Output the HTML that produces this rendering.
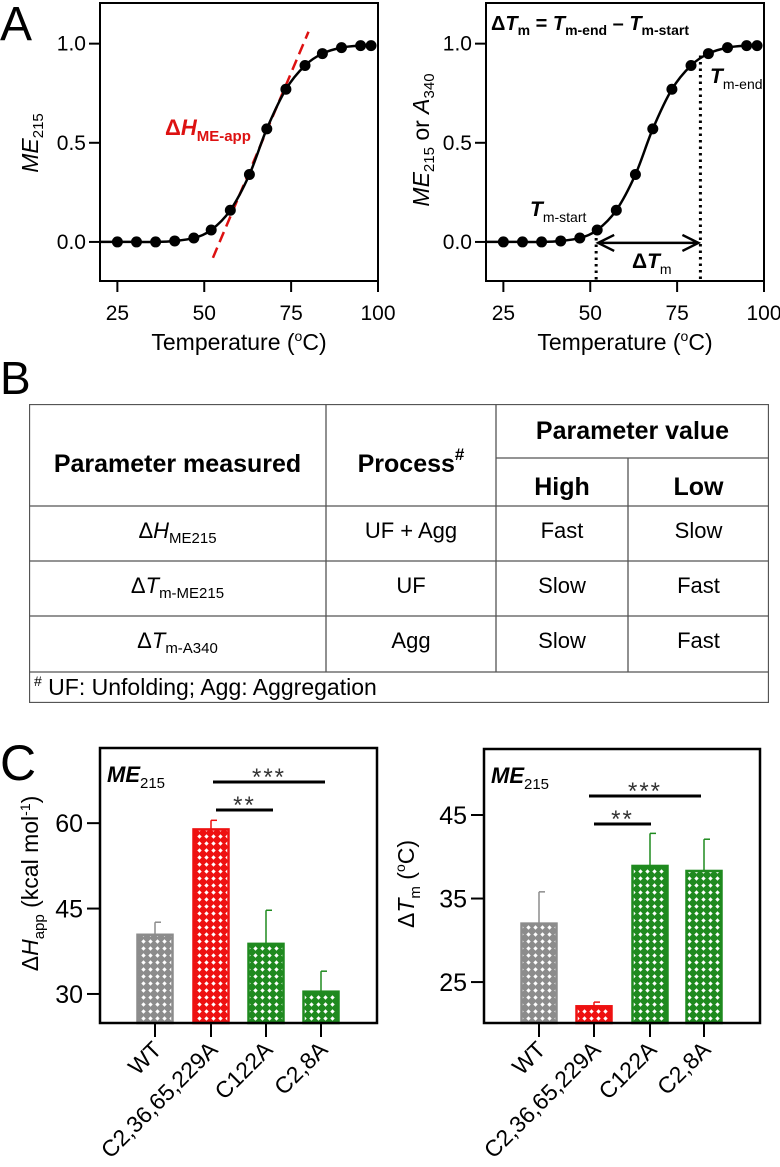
<!DOCTYPE html>
<html><head><meta charset="utf-8">
<style>
html,body{margin:0;padding:0;background:#fff;}
body{width:780px;height:1167px;position:relative;overflow:hidden;font-family:"Liberation Sans",Arial,sans-serif;}
svg{position:absolute;left:0;top:0;}
text{font-family:"Liberation Sans",Arial,sans-serif;}
.tbl{position:absolute;left:29px;top:404px;width:740px;height:299px;}
.cell{position:absolute;display:flex;align-items:center;justify-content:center;font-size:22px;color:#000;white-space:nowrap;}
.hd{font-weight:bold;font-size:25px;}
.sb{font-size:15px;position:relative;top:7px;}
</style></head>
<body>
<svg width="780" height="1167">
<defs>
<pattern id="pg" width="7" height="7" patternUnits="userSpaceOnUse"><rect width="7" height="7" fill="#8c8c8c"/><path d="M3.5 1.3 L5.7 3.5 L3.5 5.7 L1.3 3.5Z" fill="#fff"/></pattern>
<pattern id="pr" width="7" height="7" patternUnits="userSpaceOnUse"><rect width="7" height="7" fill="#ee1111"/><path d="M3.5 1.3 L5.7 3.5 L3.5 5.7 L1.3 3.5Z" fill="#fff"/></pattern>
<pattern id="pgr" width="7" height="7" patternUnits="userSpaceOnUse"><rect width="7" height="7" fill="#1f8a1f"/><path d="M3.5 1.3 L5.7 3.5 L3.5 5.7 L1.3 3.5Z" fill="#fff"/></pattern>
</defs>
<g id="gA1"></g>
<g id="gA2"></g>
<g id="gC1"></g>
<g id="gC2"></g>
<text x="0" y="40" font-size="48">A</text>
<text x="0" y="394" font-size="46">B</text>
<text x="0" y="780" font-size="50">C</text>
</svg>

<div class="tbl">
<svg width="740" height="299" style="position:absolute;left:0;top:0">
<g stroke="#555" stroke-width="1.3" fill="none">
<rect x="0.5" y="0.5" width="739" height="298"/>
<line x1="0" y1="102" x2="740" y2="102"/>
<line x1="0" y1="157" x2="740" y2="157"/>
<line x1="0" y1="212" x2="740" y2="212"/>
<line x1="0" y1="268" x2="740" y2="268"/>
<line x1="297" y1="0" x2="297" y2="268"/>
<line x1="467" y1="0" x2="467" y2="268"/>
<line x1="467" y1="54" x2="740" y2="54"/>
<line x1="599" y1="54" x2="599" y2="268"/>
</g></svg>
<div class="cell hd" style="left:0;top:0;width:297px;height:120px">Parameter measured</div>
<div class="cell hd" style="left:297px;top:0;width:170px;height:120px">Process<span style="font-size:17px;position:relative;top:-9px">#</span></div>
<div class="cell hd" style="left:467px;top:0;width:273px;height:54px">Parameter value</div>
<div class="cell hd" style="left:467px;top:54px;width:132px;height:58px">High</div>
<div class="cell hd" style="left:599px;top:54px;width:141px;height:58px">Low</div>

<div class="cell" style="left:0;top:102px;width:297px;height:50px">Δ<i>H</i><span class="sb">ME215</span></div>
<div class="cell" style="left:297px;top:102px;width:170px;height:50px">UF + Agg</div>
<div class="cell" style="left:467px;top:102px;width:132px;height:50px">Fast</div>
<div class="cell" style="left:599px;top:102px;width:141px;height:50px">Slow</div>

<div class="cell" style="left:0;top:157px;width:297px;height:50px">Δ<i>T</i><span class="sb">m-ME215</span></div>
<div class="cell" style="left:297px;top:157px;width:170px;height:50px">UF</div>
<div class="cell" style="left:467px;top:157px;width:132px;height:50px">Slow</div>
<div class="cell" style="left:599px;top:157px;width:141px;height:50px">Fast</div>

<div class="cell" style="left:0;top:212px;width:297px;height:50px">Δ<i>T</i><span class="sb">m-A340</span></div>
<div class="cell" style="left:297px;top:212px;width:170px;height:50px">Agg</div>
<div class="cell" style="left:467px;top:212px;width:132px;height:50px">Slow</div>
<div class="cell" style="left:599px;top:212px;width:141px;height:50px">Fast</div>

<div class="cell" style="left:5px;top:268px;height:31px;justify-content:flex-start;font-size:23px"><span style="font-size:14px;position:relative;top:-7px">#</span>&nbsp;UF: Unfolding; Agg: Aggregation</div>
</div>

<script>
// Panel A data
const temps = [25, 30.5, 36, 41.5, 47, 52, 57.5, 63, 68, 73.5, 79, 84, 89.5, 95, 98];
const signal = [0, 0, 0, 0.005, 0.02, 0.06, 0.16, 0.34, 0.57, 0.77, 0.89, 0.95, 0.98, 0.99, 0.99];
const xTicksA = [25, 50, 75, 100];
const yTicksA = [0, 0.5, 1.0];
const yTickLabelsA = ["0.0", "0.5", "1.0"];
const slopeLine = [[52.5, -0.08], [80, 1.06]];
const tmStart = 51.7, tmEnd = 81.7;

// Panel C data
const mutants = ["WT", "C2,36,65,229A", "C122A", "C2,8A"];
const dH = [40.4, 58.9, 38.8, 30.4];
const dHerr = [2.2, 1.6, 5.9, 3.6];
const dTm = [32.0, 22.1, 38.9, 38.3];
const dTmErr = [3.8, 0.5, 3.9, 3.8];
const yTicksC1 = [30, 45, 60];
const yTicksC2 = [25, 35, 45];
const barFills = ["url(#pg)", "url(#pr)", "url(#pgr)", "url(#pgr)"];
const barStrokes = ["#8c8c8c", "#ee1111", "#1f8a1f", "#1f8a1f"];

const NS = "http://www.w3.org/2000/svg";
function mk(parent, tag, attrs, txt) {
  const e = document.createElementNS(NS, tag);
  for (const k in attrs) e.setAttribute(k, attrs[k]);
  if (txt !== undefined) e.textContent = txt;
  parent.appendChild(e);
  return e;
}
function smoothPath(pts) {
  let d = "M" + pts[0][0] + " " + pts[0][1];
  for (let i = 0; i < pts.length - 1; i++) {
    const p0 = pts[Math.max(0, i - 1)], p1 = pts[i], p2 = pts[i + 1], p3 = pts[Math.min(pts.length - 1, i + 2)];
    const c1x = p1[0] + (p2[0] - p0[0]) / 6, c1y = p1[1] + (p2[1] - p0[1]) / 6;
    const c2x = p2[0] - (p3[0] - p1[0]) / 6, c2y = p2[1] - (p3[1] - p1[1]) / 6;
    d += " C" + c1x + " " + c1y + " " + c2x + " " + c2y + " " + p2[0] + " " + p2[1];
  }
  return d;
}

function panelA(g, x0, x1, right) {
  const top = 3, bot = 281;
  const X = t => x0 + (t - 20) / 80 * (x1 - x0);
  const Y = v => bot - (v + 0.197) / 1.402 * (bot - top);
  const box = mk(g, "rect", {x: x0, y: top, width: x1 - x0, height: bot - top, fill: "none", stroke: "#000", "stroke-width": 2});
  
  
  xTicksA.forEach(t => {
    const l = mk(g, "line", {x1: X(t), x2: X(t), y1: bot, y2: bot + 11, stroke: "#000", "stroke-width": 2});
    
    
    const tx = mk(g, "text", {x: X(t), y: 320, "font-size": 21, "text-anchor": "middle"}, String(t));
    
    
  });
  yTicksA.forEach((v, i) => {
    const l = mk(g, "line", {x1: x0 - 11, x2: x0, y1: Y(v), y2: Y(v), stroke: "#000", "stroke-width": 2});
    
    
    const tx = mk(g, "text", {x: x0 - 14, y: Y(v) + 7, "font-size": 21, "text-anchor": "end"}, yTickLabelsA[i]);
    
    
  });
  const xt = mk(g, "text", {x: (x0 + x1) / 2, y: 350, "font-size": 23, "text-anchor": "middle"});
  
  
  xt.innerHTML = 'Temperature (<tspan font-size="14" dy="-9">o</tspan><tspan dy="9">C)</tspan>';

  const pts = [[X(20), Y(0)]].concat(temps.map((t, i) => [X(t), Y(signal[i])])).concat([[X(98.5), Y(0.99)]]);
  if (!right) {
    const sl = mk(g, "line", {x1: X(slopeLine[0][0]), y1: Y(slopeLine[0][1]), x2: X(slopeLine[1][0]), y2: Y(slopeLine[1][1]), stroke: "#dd1111", "stroke-width": 2.5, "stroke-dasharray": "11,6"});
    
    
  }
  const path = mk(g, "path", {d: smoothPath(pts), fill: "none", stroke: "#000", "stroke-width": 2.5});
  
  
  temps.forEach((t, i) => {
    const c = mk(g, "circle", {cx: X(t), cy: Y(signal[i]), r: 5.5, fill: "#000"});
    
    
  });
  if (!right) {
    const yt = mk(g, "text", {transform: "translate(38,143) rotate(-90)", "font-size": 23, "text-anchor": "middle"});
    
    
    yt.innerHTML = '<tspan font-style="italic">ME</tspan><tspan font-size="15" dy="5">215</tspan>';
    const rl = mk(g, "text", {x: 165, y: 135, "font-size": 22, fill: "#dd1111", "font-weight": "bold"});
    
    
    rl.innerHTML = 'Δ<tspan font-style="italic">H</tspan><tspan font-size="15" dy="6">ME-app</tspan>';
  } else {
    const yt = mk(g, "text", {transform: "translate(429,140) rotate(-90)", "font-size": 23, "text-anchor": "middle"});
    
    
    yt.innerHTML = '<tspan font-style="italic">ME</tspan><tspan font-size="15" dy="5">215</tspan><tspan dy="-5"> or </tspan><tspan font-style="italic">A</tspan><tspan font-size="15" dy="5">340</tspan>';
    const d1 = mk(g, "line", {x1: X(tmStart), x2: X(tmStart), y1: Y(0.02), y2: bot, stroke: "#000", "stroke-width": 3, "stroke-dasharray": "2.5,4"});
    
    
    const d2 = mk(g, "line", {x1: X(tmEnd), x2: X(tmEnd), y1: Y(0.94), y2: bot, stroke: "#000", "stroke-width": 3, "stroke-dasharray": "2.5,4"});
    
    
    const ay = Y(0) + 1, ax1 = X(tmStart) + 2, ax2 = X(tmEnd) - 2;
    const ar = mk(g, "path", {d: `M${ax1} ${ay} L${ax2} ${ay} M${ax1 + 16} ${ay - 8} L${ax1} ${ay} L${ax1 + 16} ${ay + 8} M${ax2 - 16} ${ay - 8} L${ax2} ${ay} L${ax2 - 16} ${ay + 8}`, fill: "none", stroke: "#000", "stroke-width": 2.5});
    
    
    const t1 = mk(g, "text", {x: 491, y: 30, "font-size": 20, "font-weight": "bold"});
    
    
    t1.innerHTML = 'Δ<tspan font-style="italic">T</tspan><tspan font-size="14" dy="5">m</tspan><tspan dy="-5"> = </tspan><tspan font-style="italic">T</tspan><tspan font-size="14" dy="5">m-end</tspan><tspan dy="-5"> – </tspan><tspan font-style="italic">T</tspan><tspan font-size="14" dy="5">m-start</tspan>';
    const t2 = mk(g, "text", {x: 710, y: 83, "font-size": 21, "font-weight": "bold"});
    
    
    t2.innerHTML = '<tspan font-style="italic">T</tspan><tspan font-size="14" font-weight="normal" dy="6">m-end</tspan>';
    const t3 = mk(g, "text", {x: 530, y: 216, "font-size": 21, "font-weight": "bold"});
    
    
    t3.innerHTML = '<tspan font-style="italic">T</tspan><tspan font-size="14" font-weight="normal" dy="6">m-start</tspan>';
    const t4 = mk(g, "text", {x: 632, y: 268, "font-size": 21, "font-weight": "bold"});
    
    
    t4.innerHTML = 'Δ<tspan font-style="italic">T</tspan><tspan font-size="14" font-weight="normal" dy="6">m</tspan>';
  }
}
panelA(document.getElementById("gA1"), 100, 378, false);
panelA(document.getElementById("gA2"), 486, 764, true);

function panelC(g, x0, x1, top, bot, vmin, vmax, vals, errs, ticks, centers, sig1, sig2, ylabelX, ylabelHtml) {
  const Y = v => bot - (v - vmin) / (vmax - vmin) * (bot - top);
  const bw = 35;
  vals.forEach((v, i) => {
    const cx = centers[i];
    const eb = mk(g, "line", {x1: cx, x2: cx, y1: Y(v), y2: Y(v + errs[i]), stroke: barStrokes[i], "stroke-width": 1.5});
    
    
    const cap = mk(g, "line", {x1: cx, x2: cx + 6, y1: Y(v + errs[i]), y2: Y(v + errs[i]), stroke: barStrokes[i], "stroke-width": 1.5});
    
    
    const r = mk(g, "rect", {x: cx - bw / 2, y: Y(v), width: bw, height: bot - Y(v), fill: barFills[i], stroke: barStrokes[i], "stroke-width": 2.5});
    
    
    const tk = mk(g, "line", {x1: cx, x2: cx, y1: bot, y2: bot + 14, stroke: "#000", "stroke-width": 2});
    
    
    const lb = mk(g, "text", {transform: `translate(${cx + 8},${bot + 28}) rotate(-45)`, "font-size": 23, "text-anchor": "end"}, mutants[i]);
    
    
  });
  const box = mk(g, "rect", {x: x0, y: top, width: x1 - x0, height: bot - top, fill: "none", stroke: "#000", "stroke-width": 2.5});
  
  
  ticks.forEach(v => {
    const l = mk(g, "line", {x1: x0 - 13, x2: x0, y1: Y(v), y2: Y(v), stroke: "#000", "stroke-width": 2});
    
    
    const t = mk(g, "text", {x: x0 - 17, y: Y(v) + 9, "font-size": 25, "text-anchor": "end"}, String(v));
    
    
  });
  [[sig1, "***"], [sig2, "**"]].forEach(([s, st]) => {
    const l = mk(g, "line", {x1: s[0], x2: s[1], y1: s[2], y2: s[2], stroke: "#000", "stroke-width": 3});
    
    
    const t = mk(g, "text", {x: (s[0] + s[1]) / 2, y: s[2] + 3, "font-size": 24, "text-anchor": "middle", fill: "#333", "letter-spacing": "2"}, st);
    
    
  });
  const me = mk(g, "text", {x: x0 + 7, y: top + 34, "font-size": 22, "font-weight": "bold"});
  
  
  me.innerHTML = '<tspan font-style="italic">ME</tspan><tspan font-size="15" font-weight="normal" dy="6">215</tspan>';
  const yt = mk(g, "text", {transform: `translate(${ylabelX},${(top + bot) / 2 - 2}) rotate(-90)`, "font-size": 23, "text-anchor": "middle"});
  
  
  yt.innerHTML = ylabelHtml;
}
panelC(document.getElementById("gC1"), 100, 377, 748, 1023, 24.9, 73.2, dH, dHerr, yTicksC1,
  [155, 211, 266, 321], [213, 325, 782], [216, 273, 810], 38,
  'Δ<tspan font-style="italic">H</tspan><tspan font-size="15" dy="6">app</tspan><tspan dy="-6"> (kcal mol</tspan><tspan font-size="14" dy="-8">-1</tspan><tspan dy="8">)</tspan>');
panelC(document.getElementById("gC2"), 484, 760, 749, 1023, 20.1, 52.9, dTm, dTmErr, yTicksC2,
  [539, 594, 650, 704], [589, 701, 796], [594, 651, 824], 414,
  'Δ<tspan font-style="italic">T</tspan><tspan font-size="15" dy="6">m</tspan><tspan dy="-6"> (</tspan><tspan font-size="14" dy="-9">o</tspan><tspan dy="9">C)</tspan>');
</script>
</body></html>
